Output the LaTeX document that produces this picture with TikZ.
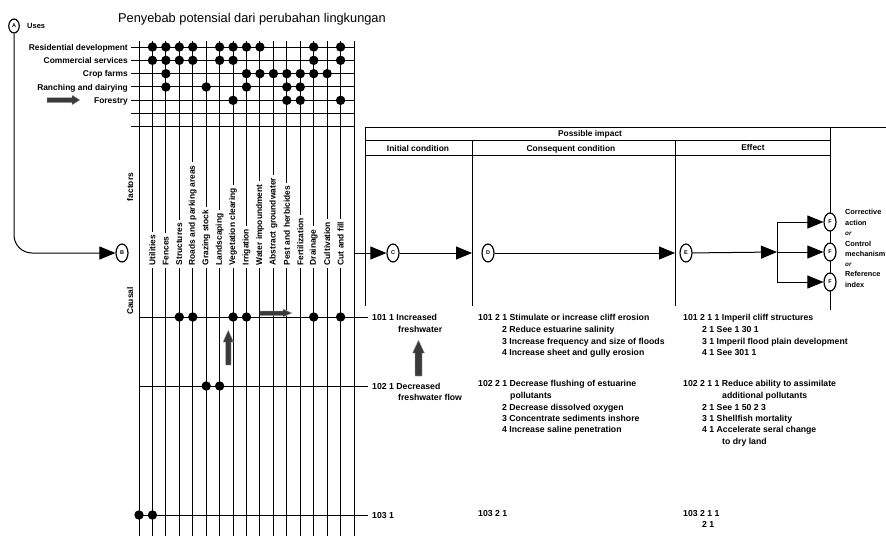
\documentclass[tikz,border=0pt]{standalone}
\usepackage{fontspec}
\setmainfont{Liberation Sans}
\usetikzlibrary{arrows.meta,shapes.geometric}
\definecolor{blockgray}{RGB}{58,58,58}
\begin{document}
\begin{tikzpicture}[x=1pt,y=-1pt,
  gridline/.style={line width=1pt},
  lab/.style={font=\fontsize{8.4}{9}\selectfont\bfseries, inner sep=0pt},
  rowlab/.style={lab, anchor=base east},
  txt/.style={font=\fontsize{8.7}{9}\selectfont\bfseries, inner sep=0pt, anchor=base west},
  keytxt/.style={font=\fontsize{7.3}{8}\selectfont\bfseries, inner sep=0pt, anchor=base west},
  collab/.style={font=\fontsize{8.4}{9}\selectfont\bfseries, rotate=90, anchor=west,
    fill=white, inner xsep=3pt, inner ysep=0.6pt},
  sidelab/.style={font=\fontsize{8.4}{9}\selectfont\bfseries, rotate=90, inner sep=0pt},
  dot/.style={circle, fill=black, minimum size=9.4pt, inner sep=0pt},
  ell/.style={ellipse, draw, line width=1.2pt, fill=white, minimum width=12pt,
    minimum height=18pt, inner sep=0pt, font=\fontsize{5.5}{6}\selectfont\bfseries},
  arr/.style={line width=1pt, -{Triangle[length=16pt,width=13pt]}},
  blockarrow/.style={fill=blockgray, draw=gray!60, line width=0.4pt},
  hdr/.style={lab, anchor=base},
  ortxt/.style={font=\fontsize{6.3}{7}\selectfont\bfseries\itshape, inner sep=0pt, anchor=base west}
]
\useasboundingbox (0,0) rectangle (886,536);

% title
\node[font=\fontsize{12.8}{14}\selectfont, anchor=base west, inner sep=0pt] (title) at (118,22)
  {Penyebab potensial dari perubahan lingkungan};

% ---------- matrix of uses versus causal factors ----------
% vertical column lines (0 and 16 are the borders)
\foreach \k in {0,...,16}
  \draw[gridline] ({139+13.44*\k},41) -- ({139+13.44*\k},536);
% horizontal rows of the uses block
\foreach \r in {1,...,7}
  \draw[gridline] (131,{47+13.33*(\r-1)}) -- (354,{47+13.33*(\r-1)});
% causal rows
\draw[gridline] (139,317) -- (368,317);
\draw[gridline] (139,386) -- (368,386);
\draw[gridline] (139,515) -- (368,515);

% row labels
\node[rowlab] (u1) at (128,50) {Residential development};
\node[rowlab] (u2) at (128,63.3) {Commercial services};
\node[rowlab] (u3) at (128,76.7) {Crop farms};
\node[rowlab] (u4) at (128,90) {Ranching and dairying};
\node[rowlab] (u5) at (128,103.3) {Forestry};

% column labels
\foreach \k/\t in {1/Utilities,2/Fences,3/Structures,4/Roads and parking areas,
    5/Grazing stock,6/Landscaping,7/Vegetation clearing,8/Irrigation,
    9/Water impoundment,10/Abstract groundwater,11/Pest and herbicides,
    12/Fertilization,13/Drainage,14/Cultivation,15/Cut and fill}
  \node[collab] (col\k) at ({139+13.44*\k},268.5) {\t};

\node[sidelab] (factors) at (130,187) {factors};
\node[sidelab] (causal) at (130,301) {Causal};

% dots of the uses block
\foreach \r/\k in {1/1,1/2,1/3,1/4,1/6,1/7,1/8,1/9,1/13,1/15,
    2/1,2/2,2/3,2/4,2/6,2/7,2/13,2/15,
    3/2,3/8,3/9,3/10,3/11,3/12,3/13,3/14,
    4/2,4/5,4/8,4/11,4/12,
    5/7,5/11,5/12,5/15}
  \node[dot] (m\r-\k) at ({139+13.44*\k},{47+13.33*(\r-1)}) {};
% dots of the causal rows
\foreach \k in {3,4,7,8,13,15}
  \node[dot] (ca\k) at ({139+13.44*\k},317) {};
\foreach \k in {5,6}
  \node[dot] (cb\k) at ({139+13.44*\k},386) {};
\foreach \k in {0,1}
  \node[dot] (cc\k) at ({139+13.44*\k},515) {};

% grey block arrows
\draw[blockarrow] (47,97.5) -- (72,97.5) -- (72,95) -- (80,100) -- (72,105) -- (72,102.5) -- (47,102.5) -- cycle;
\draw[blockarrow] (260,311) -- (283,311) -- (283,309) -- (292,313) -- (283,317) -- (283,315.5) -- (260,315.5) -- cycle;
\draw[blockarrow] (225.5,365) -- (225.5,342) -- (223,342) -- (228.3,330) -- (233.5,342) -- (231,342) -- (231,365) -- cycle;
\draw[blockarrow] (415,376) -- (415,353) -- (412.5,353) -- (418.5,340) -- (424.5,353) -- (422,353) -- (422,376) -- cycle;

% ---------- uses to factors ----------
\node[ell, minimum width=10.5pt, minimum height=14pt] (A) at (14,26) {A};
\node[lab, font=\fontsize{7.5}{8}\selectfont\bfseries, anchor=base west] (uses) at (27,28) {Uses};
\node[ell] (B) at (122,253) {B};
\draw[arr, rounded corners=18pt] (A.south) |- (B.west);

% ---------- possible impact table ----------
\draw[gridline] (365,127) -- (886,127);
\draw[gridline] (365,140) -- (830,140);
\draw[gridline] (365,155) -- (830,155);
\draw[gridline] (365,127) -- (365,306);
\draw[gridline] (472,140) -- (472,306);
\draw[gridline] (675,140) -- (675,306);
\draw[gridline] (830,127) -- (830,310);
\node[hdr] (hpi) at (590,136) {Possible impact};
\node[hdr] (hic) at (418,151) {Initial condition};
\node[hdr] (hcc) at (571,151) {Consequent condition};
\node[hdr] (hef) at (753,150) {Effect};

% flow C -> D -> E -> F
\coordinate (gridR) at (354,253);
\node[ell] (C) at (393,253) {C};
\node[ell] (D) at (488,253) {D};
\node[ell] (E) at (686,253) {E};
\node[ell] (F1) at (830,222) {F};
\node[ell] (F2) at (830,252) {F};
\node[ell] (F3) at (830,282) {F};
\coordinate (cIn) at (472,253);
\coordinate (dOut) at (675,253);
\coordinate (split) at (777,252);
\coordinate (splitT) at (777,222);
\coordinate (splitB) at (777,282);
\draw[arr] (gridR) -- (C);
\draw[arr] (C) -- (cIn);
\draw[arr] (D) -- (dOut);
\draw[arr] (E) -- (split);
\draw[line width=1pt] (splitT) -- (splitB);
\draw[arr] (split) -- (F2);
\draw[arr] (splitT) -- (F1);
\draw[arr] (splitB) -- (F3);

\node[keytxt] (k1) at (845,214) {Corrective};
\node[keytxt] (k2) at (845,225) {action};
\node[ortxt] (k3) at (845,235) {or};
\node[keytxt] (k4) at (845,246) {Control};
\node[keytxt] (k5) at (845,256) {mechanism};
\node[ortxt] (k6) at (845,266) {or};
\node[keytxt] (k7) at (845,276) {Reference};
\node[keytxt] (k8) at (845,287) {index};

% ---------- initial conditions ----------
\node[txt] (i1) at (372,320) {101 1 Increased};
\node[txt] (i1b) at (398,332) {freshwater};
\node[txt] (i2) at (372,389) {102 1 Decreased};
\node[txt] (i2b) at (398,400) {freshwater flow};
\node[txt] (i3) at (372,518) {103 1};

% ---------- consequent conditions ----------
\node[txt] (q11) at (478,320) {101 2 1 Stimulate or increase cliff erosion};
\node[txt] (q12) at (502,332) {2 Reduce estuarine salinity};
\node[txt] (q13) at (502,344) {3 Increase frequency and size of floods};
\node[txt] (q14) at (502,355) {4 Increase sheet and gully erosion};
\node[txt] (q21) at (478,386) {102 2 1 Decrease flushing of estuarine};
\node[txt] (q21b) at (510,398) {pollutants};
\node[txt] (q22) at (502,410) {2 Decrease dissolved oxygen};
\node[txt] (q23) at (502,421) {3 Concentrate sediments inshore};
\node[txt] (q24) at (502,432) {4 Increase saline penetration};
\node[txt] (q31) at (478,516) {103 2 1};

% ---------- effects ----------
\node[txt] (e11) at (683,320) {101 2 1 1 Imperil cliff structures};
\node[txt] (e12) at (702,332) {2 1 See 1 30 1};
\node[txt] (e13) at (702,344) {3 1 Imperil flood plain development};
\node[txt] (e14) at (702,355) {4 1 See 301 1};
\node[txt] (e21) at (683,386) {102 2 1 1 Reduce ability to assimilate};
\node[txt] (e21b) at (722,398) {additional pollutants};
\node[txt] (e22) at (702,410) {2 1 See 1 50 2 3};
\node[txt] (e23) at (702,421) {3 1 Shellfish mortality};
\node[txt] (e24) at (702,432) {4 1 Accelerate seral change};
\node[txt] (e24b) at (722,444) {to dry land};
\node[txt] (e31) at (683,516) {103 2 1 1};
\node[txt] (e32) at (702,527) {2 1};
\end{tikzpicture}
\end{document}
